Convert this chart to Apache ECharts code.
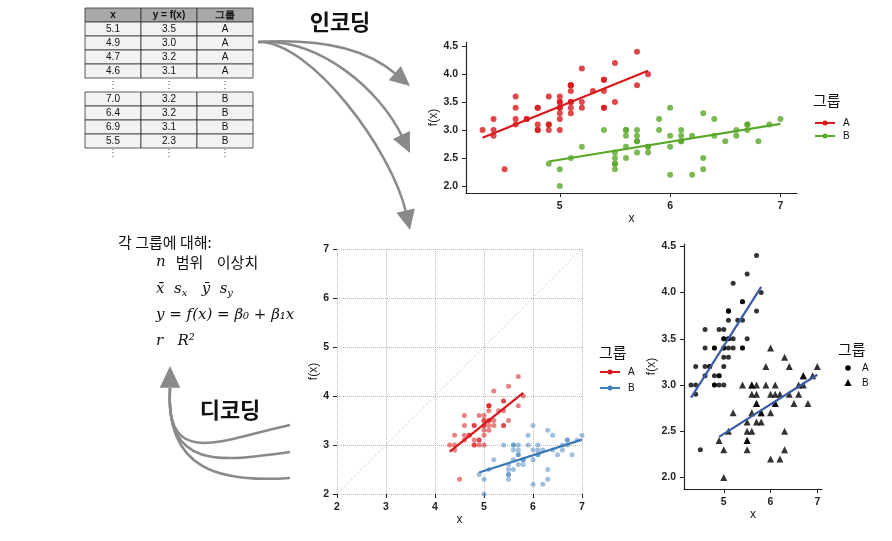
<!DOCTYPE html>
<html><head><meta charset="utf-8">
<script src="https://cdn.jsdelivr.net/npm/echarts@6/dist/echarts.min.js"></script>
<style>html,body{margin:0;padding:0;background:#fff}#c{width:892px;height:541px}</style>
</head><body><div id="c"></div>
<script>
const aX=[5.1,4.9,4.7,4.6,5.0,5.4,4.6,5.0,4.4,4.9,5.4,4.8,4.8,4.3,5.8,5.7,5.4,5.1,5.7,5.1,5.4,5.1,4.6,5.1,4.8,5.0,5.0,5.2,5.2,4.7,4.8,5.4,5.2,5.5,4.9,5.0,5.5,4.9,4.4,5.1,5.0,4.5,4.4,5.0,5.1,4.8,5.1,4.6,5.3,5.0];
const aY=[3.5,3.0,3.2,3.1,3.6,3.9,3.4,3.4,2.9,3.1,3.7,3.4,3.0,3.0,4.0,4.4,3.9,3.5,3.8,3.8,3.4,3.7,3.6,3.3,3.4,3.0,3.4,3.5,3.4,3.2,3.1,3.4,4.1,4.2,3.1,3.2,3.5,3.6,3.0,3.4,3.5,2.3,3.2,3.5,3.8,3.0,3.8,3.2,3.7,3.3];
const bX=[7.0,6.4,6.9,5.5,6.5,5.7,6.3,4.9,6.6,5.2,5.0,5.9,6.0,6.1,5.6,6.7,5.6,5.8,6.2,5.6,5.9,6.1,6.3,6.1,6.4,6.6,6.8,6.7,6.0,5.7,5.5,5.5,5.8,6.0,5.4,6.0,6.7,6.3,5.6,5.5,5.5,6.1,5.8,5.0,5.6,5.7,5.7,6.2,5.1,5.7];
const bY=[3.2,3.2,3.1,2.3,2.8,2.8,3.3,2.4,2.9,2.7,2.0,3.0,2.2,2.9,2.9,3.1,3.0,2.7,2.2,2.5,3.2,2.8,2.5,2.8,2.9,3.0,2.8,3.0,2.9,2.6,2.4,2.4,2.7,2.7,3.0,3.4,3.1,2.3,3.0,2.5,2.6,3.0,2.6,2.3,2.7,3.0,2.9,2.9,2.5,2.8];
const tableHead=['x','y = f(x)','그룹'];
const tableRows1=[['5.1','3.5','A'],['4.9','3.0','A'],['4.7','3.2','A'],['4.6','3.1','A']];
const tableRows2=[['7.0','3.2','B'],['6.4','3.2','B'],['6.9','3.1','B'],['5.5','2.3','B']];

function pts(xs,ys){return xs.map((x,i)=>[x,ys[i]]);}
function fit(xs,ys){const n=xs.length,mx=xs.reduce((a,b)=>a+b)/n,my=ys.reduce((a,b)=>a+b)/n;
 let sxy=0,sxx=0;xs.forEach((x,i)=>{sxy+=(x-mx)*(ys[i]-my);sxx+=(x-mx)*(x-mx);});
 const b=sxy/sxx,a=my-b*mx,lo=Math.min(...xs),hi=Math.max(...xs);return [[lo,a+b*lo],[hi,a+b*hi]];}
const fa=fit(aX,aY),fb=fit(bX,bY);
const A=pts(aX,aY),B=pts(bX,bY);

const font='Liberation Sans, Arial, sans-serif';
const ax=(extra)=>Object.assign({type:'value',axisLine:{show:true,lineStyle:{color:'#222',width:1.2}},axisTick:{show:true,length:4,lineStyle:{color:'#222'}},axisLabel:{color:'#222',fontSize:10.5,fontFamily:font,fontWeight:'bold'},splitLine:{show:false},nameLocation:'middle',nameTextStyle:{color:'#222',fontSize:12,fontFamily:font}},extra);

const g=[];
const cx=[85,141,197,253];
function row(y,cells,head){for(let i=0;i<3;i++){g.push({type:'rect',shape:{x:cx[i],y:y,width:56,height:14},style:{fill:head?'#a8a8a8':'#f2f2f2',stroke:'#333',lineWidth:0.8}});
 g.push({type:'text',x:cx[i]+28,y:y+7,style:{text:cells[i],fontSize:10,fontFamily:font,fill:'#111',align:'center',verticalAlign:'middle',fontWeight:head?'bold':'normal'}});}}
row(8,tableHead,true);tableRows1.forEach((r,i)=>row(22+i*14,r));
tableRows2.forEach((r,i)=>row(92+i*14,r));
[85,153].forEach(y=>{for(let i=0;i<3;i++)g.push({type:'text',x:cx[i]+28,y:y,style:{text:'⋮',fontSize:10,fill:'#555',align:'center',verticalAlign:'middle'}});});
const arrowC='#8a8a8a';
function headAt(tx,ty,fx,fy,s){const ang=Math.atan2(ty-fy,tx-fx);const a1=ang+2.7,a2=ang-2.7;
 return {type:'polygon',shape:{points:[[tx,ty],[tx+s*Math.cos(a1),ty+s*Math.sin(a1)],[tx+s*Math.cos(a2),ty+s*Math.sin(a2)]]},style:{fill:arrowC}};}
function curveArrow(x1,y1,c1x,c1y,c2x,c2y,tx,ty,s){
 const ang=Math.atan2(ty-c2y,tx-c2x);const ex=tx-s*0.8*Math.cos(ang),ey=ty-s*0.8*Math.sin(ang);
 g.push({type:'bezierCurve',shape:{x1:x1,y1:y1,cpx1:c1x,cpy1:c1y,cpx2:c2x,cpy2:c2y,x2:ex,y2:ey},style:{stroke:arrowC,lineWidth:2.5,fill:null}});
 g.push(headAt(tx,ty,c2x,c2y,s));}
curveArrow(258,42,330,38,370,52,410,86,22);
curveArrow(258,42,320,38,380,90,410,153,22);
curveArrow(258,42,310,40,392,150,410,230,22);
g.push({type:'text',x:340,y:22,style:{text:'인코딩',fontSize:22,fontWeight:'bold',fontFamily:'Noto Sans CJK KR',fill:'#111',align:'center',verticalAlign:'middle'}});
g.push({type:'text',x:230,y:410,style:{text:'디코딩',fontSize:22,fontWeight:'bold',fontFamily:'Noto Sans CJK KR',fill:'#111',align:'center',verticalAlign:'middle'}});
[[290,425],[290,452],[290,478]].forEach(([sx,sy],i)=>{
 g.push({type:'bezierCurve',shape:{x1:sx,y1:sy,cpx1:220,cpy1:sy+15-i*5,cpx2:165,cpy2:470,x2:170,y2:388},style:{stroke:arrowC,lineWidth:2.5,fill:null}});});
g.push(headAt(170,366,170,400,24));
const ser='DejaVu Serif, Liberation Serif, serif';
g.push({type:'text',x:118,y:242,style:{text:'각 그룹에 대해:',fontSize:15,fontFamily:'Noto Sans CJK KR',fill:'#111',verticalAlign:'middle'}});
g.push({type:'text',x:156,y:262,style:{rich:{m:{fontFamily:ser,fontStyle:'italic',fontSize:15,fill:'#111'},k:{fontFamily:'Noto Sans CJK KR',fontSize:15,fill:'#111'}},text:'{m|n}{k|   범위    이상치}',verticalAlign:'middle'}});
g.push({type:'text',x:156,y:289,style:{rich:{m:{fontFamily:ser,fontStyle:'italic',fontSize:15,fill:'#111'},s:{fontFamily:ser,fontStyle:'italic',fontSize:10,fill:'#111',verticalAlign:'bottom',padding:[8,0,0,0]}},text:'{m|x̄  s}{s|x}{m|   ȳ  s}{s|y}',verticalAlign:'middle'}});
g.push({type:'text',x:156,y:315,style:{text:'y = f(x) = β₀ + β₁x',fontFamily:ser,fontStyle:'italic',fontSize:15,fill:'#111',verticalAlign:'middle'}});
g.push({type:'text',x:156,y:341,style:{text:'r   R²',fontFamily:ser,fontStyle:'italic',fontSize:15,fill:'#111',verticalAlign:'middle'}});
function legTitle(x,y){g.push({type:'text',x:x,y:y,style:{text:'그룹',fontSize:15,fontFamily:'Noto Sans CJK KR',fill:'#111',verticalAlign:'middle'}});}
function legLine(x,y,c,t){g.push({type:'line',shape:{x1:x,y1:y,x2:x+20,y2:y},style:{stroke:c,lineWidth:2}});g.push({type:'circle',shape:{cx:x+10,cy:y,r:2.5},style:{fill:c}});
 g.push({type:'text',x:x+28,y:y,style:{text:t,fontSize:10,fontFamily:font,fill:'#111',verticalAlign:'middle'}});}
legTitle(813,100);legLine(815,123,'#d7191c','A');legLine(815,136,'#5aa82a','B');
legTitle(599,352);legLine(600,372,'#d7191c','A');legLine(600,388,'#3f7fbf','B');
legTitle(838,349);
g.push({type:'circle',shape:{cx:848,cy:368,r:2.8},style:{fill:'#000'}});
g.push({type:'polygon',shape:{points:[[848,379],[844.5,386],[851.5,386]]},style:{fill:'#000'}});
g.push({type:'text',x:862,y:368,style:{text:'A',fontSize:10,fontFamily:font,fill:'#111',verticalAlign:'middle'}});
g.push({type:'text',x:862,y:383,style:{text:'B',fontSize:10,fontFamily:font,fill:'#111',verticalAlign:'middle'}});

const opt={animation:false,
 grid:[{left:466,top:42,width:331,height:151},{left:337,top:249,width:245,height:245},{left:684,top:244,width:138,height:245}],
 xAxis:[ax({gridIndex:0,min:4.15,max:7.15,interval:0.05,axisLabel:{customValues:[5,6,7],color:'#222',fontSize:10.5,fontWeight:'bold'},axisTick:{customValues:[5,6,7],length:4},name:'x',nameGap:16}),
  ax({gridIndex:1,min:2,max:7,interval:1,axisLine:{show:false},splitLine:{show:true,lineStyle:{type:'dotted',color:'#bbb'}},name:'x',nameGap:16}),
  ax({gridIndex:2,min:4.15,max:7.1,interval:0.05,axisLabel:{customValues:[5,6,7],color:'#222',fontSize:10.5,fontWeight:'bold'},axisTick:{customValues:[5,6,7],length:4},name:'x',nameGap:16})],
 yAxis:[ax({gridIndex:0,min:1.875,max:4.575,interval:0.025,axisLabel:{customValues:[2,2.5,3,3.5,4,4.5],formatter:v=>v.toFixed(1),color:'#222',fontSize:10.5,fontWeight:'bold'},axisTick:{customValues:[2,2.5,3,3.5,4,4.5],length:4},name:'f(x)',nameGap:20}),
  ax({gridIndex:1,min:2,max:7,interval:1,axisLine:{show:false},splitLine:{show:true,lineStyle:{type:'dotted',color:'#bbb'}},name:'f(x)',nameGap:14}),
  ax({gridIndex:2,min:1.875,max:4.525,interval:0.025,axisLabel:{customValues:[2,2.5,3,3.5,4,4.5],formatter:v=>v.toFixed(1),color:'#222',fontSize:10.5,fontWeight:'bold'},axisTick:{customValues:[2,2.5,3,3.5,4,4.5],length:4},name:'f(x)',nameGap:20})],
 series:[
  {type:'scatter',xAxisIndex:0,yAxisIndex:0,data:A,symbolSize:6,itemStyle:{color:'#d7191c'}},
  {type:'scatter',xAxisIndex:0,yAxisIndex:0,data:B,symbolSize:6,itemStyle:{color:'#5aa82a'}},
  {type:'line',xAxisIndex:0,yAxisIndex:0,data:fa,symbol:'none',lineStyle:{color:'#d7191c',width:2.2}},
  {type:'line',xAxisIndex:0,yAxisIndex:0,data:fb,symbol:'none',lineStyle:{color:'#5aa82a',width:2.2}},
  {type:'line',xAxisIndex:1,yAxisIndex:1,data:[[2,2],[7,7]],symbol:'none',lineStyle:{color:'#ccc',width:1,type:'dotted'}},
  {type:'scatter',xAxisIndex:1,yAxisIndex:1,data:A,symbolSize:5,itemStyle:{color:'#d7191c',opacity:0.55}},
  {type:'scatter',xAxisIndex:1,yAxisIndex:1,data:B,symbolSize:5,itemStyle:{color:'#3f7fbf',opacity:0.5}},
  {type:'line',xAxisIndex:1,yAxisIndex:1,data:fa,symbol:'none',lineStyle:{color:'#d7191c',width:2.2}},
  {type:'line',xAxisIndex:1,yAxisIndex:1,data:fb,symbol:'none',lineStyle:{color:'#3a78b5',width:2.2}},
  {type:'scatter',xAxisIndex:2,yAxisIndex:2,data:A,symbolSize:5,itemStyle:{color:'#000'}},
  {type:'scatter',xAxisIndex:2,yAxisIndex:2,data:B,symbol:'triangle',symbolSize:7,itemStyle:{color:'#000'}},
  {type:'line',xAxisIndex:2,yAxisIndex:2,data:fa,symbol:'none',lineStyle:{color:'#3b5ba5',width:2.2}},
  {type:'line',xAxisIndex:2,yAxisIndex:2,data:fb,symbol:'none',lineStyle:{color:'#3b5ba5',width:2.2}}
 ],
 graphic:g};
echarts.init(document.getElementById('c')).setOption(opt);
</script></body></html>
